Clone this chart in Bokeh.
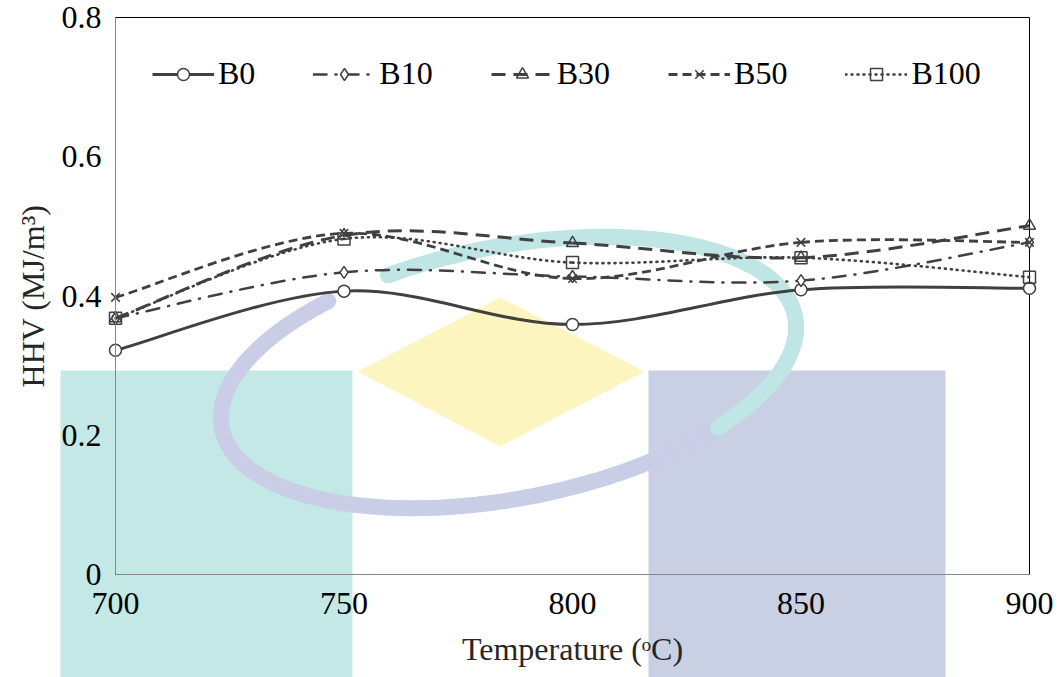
import numpy as np
from bokeh.plotting import figure
from bokeh.models import Range1d, LinearAxis, FixedTicker, Legend, LegendItem
from bokeh.embed import file_html
from bokeh.resources import INLINE

# ---- data -------------------------------------------------------------
temperature = [700, 750, 800, 850, 900]
hhv_b0 = [0.322, 0.407, 0.359, 0.409, 0.411]
hhv_b10 = [0.368, 0.434, 0.428, 0.422, 0.477]
hhv_b30 = [0.368, 0.487, 0.476, 0.455, 0.501]
hhv_b50 = [0.398, 0.490, 0.425, 0.477, 0.477]
hhv_b100 = [0.368, 0.482, 0.448, 0.455, 0.427]
series_names = ["B0", "B10", "B30", "B50", "B100"]

x_ticks = [700, 750, 800, 850, 900]
y_ticks = [0, 0.2, 0.4, 0.6, 0.8]
y_tick_labels = ["0", "0.2", "0.4", "0.6", "0.8"]

# ---- canvas geometry (pixels) -----------------------------------------
W, H = 1060, 677
BOX_L, BOX_R, BOX_T, BOX_B = 115, 1029, 17, 574
x_per_px = (x_ticks[-1] - x_ticks[0]) / (BOX_R - BOX_L)
y_per_px = (y_ticks[-1] - y_ticks[0]) / (BOX_B - BOX_T)
x_range = Range1d(x_ticks[0] - BOX_L * x_per_px, x_ticks[-1] + (W - BOX_R) * x_per_px)
y_range = Range1d(y_ticks[0] - (H - BOX_B) * y_per_px, y_ticks[-1] + BOX_T * y_per_px)


def px_x(px):
    return x_range.start + np.asarray(px, dtype=float) * x_per_px


def px_y(py):
    return y_range.end - np.asarray(py, dtype=float) * y_per_px


FONT = "Liberation Serif"
INK = "#404040"

p = figure(width=W, height=H, x_range=x_range, y_range=y_range,
           output_backend="svg", toolbar_location=None,
           x_axis_location=None, y_axis_location=None,
           min_border=0, outline_line_color=None,
           background_fill_color="white", border_fill_color="white")
p.xgrid.visible = False
p.ygrid.visible = False

# ---- background logo --------------------------------------------------
p.quad(left=float(px_x(60)), right=float(px_x(352)), top=float(px_y(370)), bottom=float(px_y(H)),
       fill_color="#c4e8e6", line_color=None)
p.quad(left=float(px_x(648)), right=float(px_x(945)), top=float(px_y(370)), bottom=float(px_y(H)),
       fill_color="#c9d0e4", line_color=None)
p.patch(px_x([357, 500, 644, 500]), px_y([371, 297, 371, 446]),
        fill_color="#fdf5c0", line_color=None)


def ellipse_arc(t0, t1, n=160):
    t = np.radians(np.linspace(t0, t1, n))
    phi = np.radians(-11)
    ex = 508 + 292 * np.cos(t) * np.cos(phi) - 126 * np.sin(t) * np.sin(phi)
    ey = 372 + 292 * np.cos(t) * np.sin(phi) + 126 * np.sin(t) * np.cos(phi)
    return px_x(ex), px_y(ey)


ax, ay = ellipse_arc(48, 236)
p.line(ax, ay, line_color="#c9cee6", line_width=16, line_cap="round")
ax, ay = ellipse_arc(250, 408)
p.line(ax, ay, line_color="#bfe5e4", line_width=16, line_cap="round")

# ---- plot area border --------------------------------------------------
p.quad(left=x_ticks[0], right=x_ticks[-1], bottom=y_ticks[0], top=y_ticks[-1],
       fill_color=None, line_color="black", line_width=1)

# ---- smoothed series ---------------------------------------------------
def smooth_segments(xs, ys):
    """Cubic Bezier control points for a smoothed polyline through the data."""
    xs = np.asarray(xs, dtype=float)
    ys = np.asarray(ys, dtype=float)
    n = len(xs)
    px_ = np.concatenate([[xs[0]], xs, [xs[-1]]])
    py_ = np.concatenate([[ys[0]], ys, [ys[-1]]])
    seg = dict(x0=[], y0=[], x1=[], y1=[], cx0=[], cy0=[], cx1=[], cy1=[])
    for i in range(n - 1):
        j = i + 1
        seg["x0"].append(px_[j]); seg["y0"].append(py_[j])
        seg["x1"].append(px_[j + 1]); seg["y1"].append(py_[j + 1])
        seg["cx0"].append(px_[j] + (px_[j + 1] - px_[j - 1]) / 6)
        seg["cy0"].append(py_[j] + (py_[j + 1] - py_[j - 1]) / 6)
        seg["cx1"].append(px_[j + 1] - (px_[j + 2] - px_[j]) / 6)
        seg["cy1"].append(py_[j + 1] - (py_[j + 2] - py_[j]) / 6)
    return seg


styles = [
    dict(values=hhv_b0, dash="solid", width=3.0, cap="butt", marker="circle", fill="white"),
    dict(values=hhv_b10, dash="13 9 1 9", width=2.5, cap="round", marker="diamond", fill="white"),
    dict(values=hhv_b30, dash="14 8", width=3.0, cap="butt", marker="triangle", fill=None),
    dict(values=hhv_b50, dash="9 5", width=2.8, cap="butt", marker="x", fill=None),
    dict(values=hhv_b100, dash="1 5", width=2.6, cap="round", marker="square", fill=None),
]

items = []
for name, st in zip(series_names, styles):
    seg = smooth_segments(temperature, st["values"])
    bz = p.bezier(**seg, line_color=INK, line_width=st["width"],
                  line_dash=st["dash"], line_cap=st["cap"])
    sc = p.scatter(temperature, st["values"], marker=st["marker"], size=12,
                   line_color=INK, line_width=1.5,
                   fill_color=st["fill"] if st["fill"] else None)
    items.append(LegendItem(label=name, renderers=[bz, sc]))

# ---- axes --------------------------------------------------------------
xaxis = LinearAxis(fixed_location=y_ticks[0], ticker=FixedTicker(ticks=x_ticks),
                   bounds=(x_ticks[0], x_ticks[-1]),
                   axis_label="Temperature (\u1d52C)")
yaxis = LinearAxis(fixed_location=x_ticks[0], ticker=FixedTicker(ticks=y_ticks),
                   bounds=(y_ticks[0], y_ticks[-1]),
                   major_label_overrides={float(t): s for t, s in zip(y_ticks, y_tick_labels)},
                   axis_label="HHV (MJ/m\u00b3)")
for ax_ in (xaxis, yaxis):
    ax_.axis_line_color = "#868686"
    ax_.axis_line_width = 1
    ax_.major_tick_in = 0
    ax_.major_tick_out = 0
    ax_.minor_tick_in = 0
    ax_.minor_tick_out = 0
    ax_.major_label_text_font = FONT
    ax_.major_label_text_font_size = "32px"
    ax_.major_label_text_color = "black"
    ax_.axis_label_text_font = FONT
    ax_.axis_label_text_font_size = "32px"
    ax_.axis_label_text_font_style = "normal"
    ax_.axis_label_text_color = "#262626"
xaxis.major_label_standoff = 18
xaxis.axis_label_standoff = 14
yaxis.major_label_standoff = 14
yaxis.axis_label_standoff = 8
p.add_layout(xaxis, "below")
p.add_layout(yaxis, "left")

# ---- legend ------------------------------------------------------------
legend = Legend(items=items, orientation="horizontal", location=(152, 585),
                glyph_width=62, glyph_height=30, label_standoff=4, spacing=58,
                padding=0, margin=0, border_line_color=None, background_fill_alpha=0,
                label_text_font=FONT, label_text_font_size="32px",
                label_text_color="black")
p.add_layout(legend)

open("out.html", "w").write(file_html(p, INLINE))
